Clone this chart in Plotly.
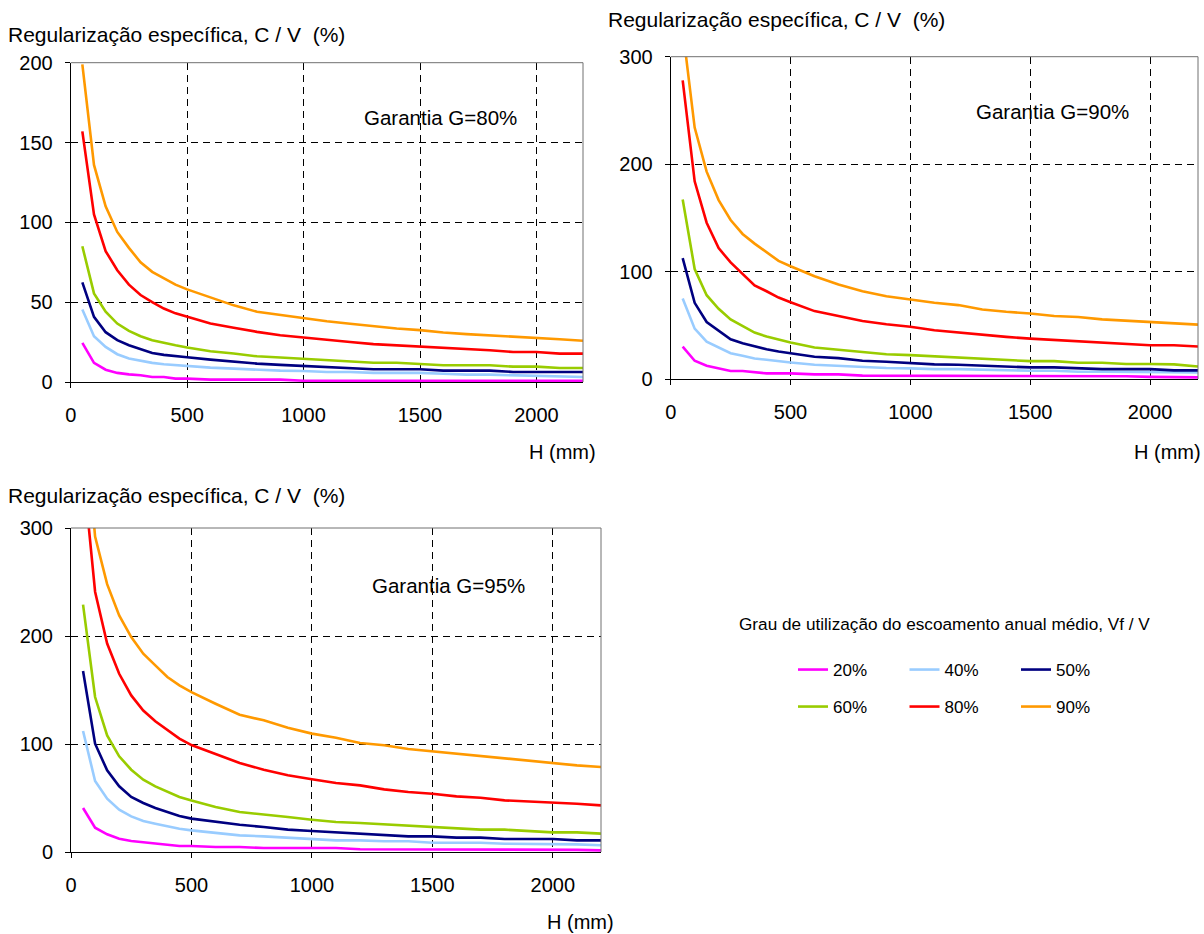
import plotly.graph_objects as go

# Altura de escoamento anual médio H (mm)
H = [50, 100, 150, 200, 250, 300, 350, 400, 450, 500, 600, 700, 800, 900, 1000,
     1100, 1200, 1300, 1400, 1500, 1600, 1700, 1800, 1900, 2000, 2100, 2200]

series_names = ["20%", "40%", "50%", "60%", "80%", "90%"]
series_colors = ["#FF00FF", "#99CCFF", "#000080", "#99CC00", "#FF0000", "#FF9900"]

# Garantia G = 80 %
g80_20 = [24.5, 12, 7.7, 5.7, 4.8, 4.2, 3.1, 3.1, 2.1, 2.1, 1.5, 1.5, 1.5, 1.5, 0.8,
          0.8, 0.8, 0.8, 0.8, 0.8, 0.8, 0.8, 0.8, 0.8, 0.8, 0.8, 0.8]
g80_40 = [45.4, 28.7, 22, 17.4, 14.7, 13.2, 12, 11.1, 10.5, 9.8, 9, 8.4, 7.7, 7.1, 6.9,
          6.3, 6.3, 5.7, 5.7, 5.7, 5.2, 4.6, 4.6, 4.2, 4.2, 3.6, 3.1]
g80_50 = [62.4, 40.8, 31.2, 26.2, 23, 20.5, 18.2, 17, 16.1, 15.5, 14, 12.6, 11.5, 10.7, 10,
          9.6, 8.8, 8, 8, 8, 7.1, 7.1, 7.1, 6.3, 6.3, 6.3, 6.3]
g80_60 = [85, 55.5, 44, 36.6, 32, 28.7, 26.2, 24.5, 23, 21.6, 19.3, 17.8, 16.1, 15.3, 14.4,
          13.8, 13, 12.1, 12.1, 11.3, 10.5, 10.5, 10.5, 9.6, 9.6, 8.8, 8.8]
g80_80 = [157, 105, 82, 70, 61, 54.5, 50, 46, 43, 41, 36.6, 34, 31.4, 29.3, 27.8,
          26.2, 25.1, 23.7, 23, 22.2, 21.6, 20.7, 19.9, 18.8, 18.8, 17.8, 17.8]
g80_90 = [199, 136, 110, 94, 84, 75, 69, 65, 61, 58, 53, 48, 44, 42, 40,
          38, 36.5, 35, 33.5, 32.5, 31, 30, 29.3, 28.5, 27.6, 26.8, 25.8]

# Garantia G = 90 %
g90_20 = [30.2, 17, 12.3, 9.9, 7.4, 7.4, 6.5, 5.2, 5.2, 5.2, 4.3, 4.3, 3.1, 3.1, 3.1,
          3.1, 3.1, 3.1, 3.1, 2.5, 2.5, 2.5, 2.5, 2.5, 2.0, 2.0, 1.5]
g90_40 = [74.9, 46.9, 34.8, 29.3, 24, 21.6, 19.1, 17.9, 16.3, 15.4, 13.3, 12.3, 11.4, 10.2, 9.9,
          9.2, 9.2, 8.6, 7.7, 7.7, 7.7, 6.8, 6.8, 6.8, 6.8, 6.5, 6.2]
g90_50 = [112.5, 70.9, 53, 44.7, 37, 33.3, 30.2, 27.7, 25.6, 24, 20.7, 19.4, 17, 16, 14.8,
          13.6, 13.3, 12.3, 11.7, 10.8, 10.8, 9.9, 9.2, 9.2, 9.2, 8, 8]
g90_60 = [167, 102.4, 78, 65.4, 55.5, 49.3, 43.2, 39.5, 36.4, 33.9, 29.3, 27.1, 25.3, 23.1, 22.2,
          21, 20, 19.1, 17.9, 16.6, 16.6, 15.1, 15.1, 13.9, 13.9, 13.6, 11.7]
g90_80 = [278, 184, 145.5, 121.8, 108.5, 97.7, 87.2, 81.7, 75.8, 71.5, 63.2, 58.6, 54, 50.9, 48.7,
          45.3, 43.2, 41.6, 39.2, 37.6, 36.4, 35.1, 33.9, 32.7, 31.4, 31.4, 30.2]
g90_90 = [326, 234, 193, 166.5, 148, 135, 126, 118, 110, 105, 95.6, 87.9, 81.7, 77, 74,
          71, 68.8, 64.7, 62.6, 61, 58.6, 57.7, 55.5, 54.3, 53, 51.8, 50.6]

# Garantia G = 95 %
g95_20 = [40.7, 22.5, 16.4, 12.3, 10.2, 8.9, 7.7, 6.8, 5.6, 5.6, 4.6, 4.6, 3.7, 3.7, 3.7,
          3.7, 2.5, 2.5, 2.5, 2.5, 2.5, 2.5, 2.5, 2.5, 2.5, 2.0, 1.5]
g95_40 = [112, 65.7, 49.4, 39.2, 33, 28.7, 26.2, 23.8, 21.6, 20, 17.9, 15.4, 14.5, 13.3, 12.3,
          10.8, 10.8, 9.9, 9.9, 8.6, 8.6, 8.6, 7.7, 7.7, 7.7, 7.1, 6.2]
g95_50 = [167.6, 100.3, 75.6, 60.8, 50.9, 45.4, 40.7, 37, 33.3, 30.9, 27.8, 25.3, 23.1, 20.7, 19.4,
          18.2, 16.7, 15.4, 14.5, 14.5, 13.3, 13.3, 12, 12, 12, 10.8, 10.8]
g95_60 = [229, 143.5, 108, 88.6, 76.2, 67, 60.8, 55.5, 50.9, 47.8, 41.7, 37, 34.9, 32.4, 29.9,
          27.8, 26.8, 25.6, 24.4, 23.1, 21.9, 20.7, 20.7, 19.4, 18.2, 18.2, 17]
g95_80 = [355, 241, 193, 165, 145, 131, 121, 112.6, 105, 99, 90.4, 82.4, 76.2, 71, 67.3,
          63.9, 61.7, 58, 55.5, 54, 51.5, 50.3, 47.8, 46.9, 46, 44.7, 43.2]
g95_90 = [420, 292, 248, 219, 199, 183.6, 172.8, 162, 154.3, 148, 137.3, 127.1, 121.9, 115.1, 109.6,
          105.8, 100.9, 98.8, 95.4, 93.2, 91, 88.9, 86.4, 83.9, 82.4, 80.2, 78.7]

panels = [
    ("Garantia G=80%", [g80_20, g80_40, g80_50, g80_60, g80_80, g80_90], 200, 50),
    ("Garantia G=90%", [g90_20, g90_40, g90_50, g90_60, g90_80, g90_90], 300, 100),
    ("Garantia G=95%", [g95_20, g95_40, g95_50, g95_60, g95_80, g95_90], 300, 100),
]

W, Hpx = 1204, 934
FONT = "Liberation Sans, Arial, sans-serif"


def fx(px):
    return px / W


def fy(py):
    return 1 - py / Hpx


# plot-area boxes in pixels: left, right, top, bottom
boxes = [(70.7, 583, 62.7, 382), (670.7, 1198, 56.7, 379), (71, 601, 528, 852)]
title_pos = [(6, 35), (606, 19), (6, 495)]
garantia_pos = [(440, 117), (1052, 111), (449, 585)]
hmm_pos = [(598, 452), (1203, 452), (616, 922)]

fig = go.Figure()
layout = dict(
    template="none",
    width=W, height=Hpx,
    margin=dict(l=0, r=0, t=0, b=0, pad=0, autoexpand=False),
    paper_bgcolor="white", plot_bgcolor="white",
    font=dict(family=FONT, color="black"),
    showlegend=True,
)
annotations = []
shapes = []

for i, (label, data, ymax, ystep) in enumerate(panels):
    n = "" if i == 0 else str(i + 1)
    l, r, t, b = boxes[i]
    for k, (name, color, vals) in enumerate(zip(series_names, series_colors, data)):
        fig.add_trace(go.Scatter(
            x=H, y=vals, mode="lines", name=name,
            line=dict(color=color, width=2.6),
            xaxis="x" + n, yaxis="y" + n,
            showlegend=(i == 0),
            legend="legend" if k < 3 else "legend2",
        ))
    layout["xaxis" + n] = dict(
        domain=[fx(l), fx(r)], anchor="y" + n, range=[0, 2200],
        tickvals=[0, 500, 1000, 1500, 2000], ticks="outside", ticklen=5,
        tickcolor="black", showline=True, linecolor="black", linewidth=1,
        showgrid=True, gridcolor="black", griddash="7px,5px", gridwidth=1,
        zeroline=False, tickfont=dict(size=20, family=FONT, color="black"),
        ticklabelstandoff=10, automargin=False, fixedrange=True,
    )
    layout["yaxis" + n] = dict(
        domain=[fy(b), fy(t)], anchor="x" + n, range=[0, ymax],
        tickvals=list(range(0, ymax + 1, ystep)), ticks="outside", ticklen=5,
        tickcolor="black", showline=True, linecolor="black", linewidth=1,
        showgrid=True, gridcolor="black", griddash="7px,5px", gridwidth=1,
        zeroline=False, tickfont=dict(size=20, family=FONT, color="black"),
        ticklabelstandoff=8, automargin=False, fixedrange=True,
    )
    # frame on the top and right of the plot area
    shapes.append(dict(type="line", xref="x" + n + " domain", yref="y" + n + " domain",
                       x0=1, x1=1, y0=0, y1=1, line=dict(color="#707070", width=1)))
    shapes.append(dict(type="line", xref="x" + n + " domain", yref="y" + n + " domain",
                       x0=0, x1=1, y0=1, y1=1, line=dict(color="#707070", width=1)))

    tx, ty = title_pos[i]
    annotations.append(dict(text="Regularização específica, C / V  (%)", xref="paper", yref="paper",
                            x=fx(tx), y=fy(ty), xanchor="left", yanchor="middle",
                            showarrow=False, font=dict(size=21, family=FONT)))
    gx, gy = garantia_pos[i]
    annotations.append(dict(text=label, xref="paper", yref="paper",
                            x=fx(gx), y=fy(gy), xanchor="center", yanchor="middle",
                            showarrow=False, font=dict(size=20.5, family=FONT)))
    hx, hy = hmm_pos[i]
    annotations.append(dict(text="H (mm)", xref="paper", yref="paper",
                            x=fx(hx), y=fy(hy), xanchor="right", yanchor="middle",
                            showarrow=False, font=dict(size=20, family=FONT)))

annotations.append(dict(text="Grau de utilização do escoamento anual médio, Vf / V",
                        xref="paper", yref="paper", x=fx(944), y=fy(624),
                        xanchor="center", yanchor="middle", showarrow=False,
                        font=dict(size=17.2, family=FONT)))

legend_common = dict(orientation="h", xanchor="left", yanchor="middle",
                     font=dict(size=17, family=FONT), bgcolor="rgba(0,0,0,0)",
                     entrywidthmode="pixels", entrywidth=66.5, itemwidth=30,
                     traceorder="normal")
layout["legend"] = dict(x=fx(793), y=fy(670), **legend_common)
layout["legend2"] = dict(x=fx(793), y=fy(707), **legend_common)
layout["annotations"] = annotations
layout["shapes"] = shapes

fig.update_layout(**layout)
fig.write_html("out.html")
